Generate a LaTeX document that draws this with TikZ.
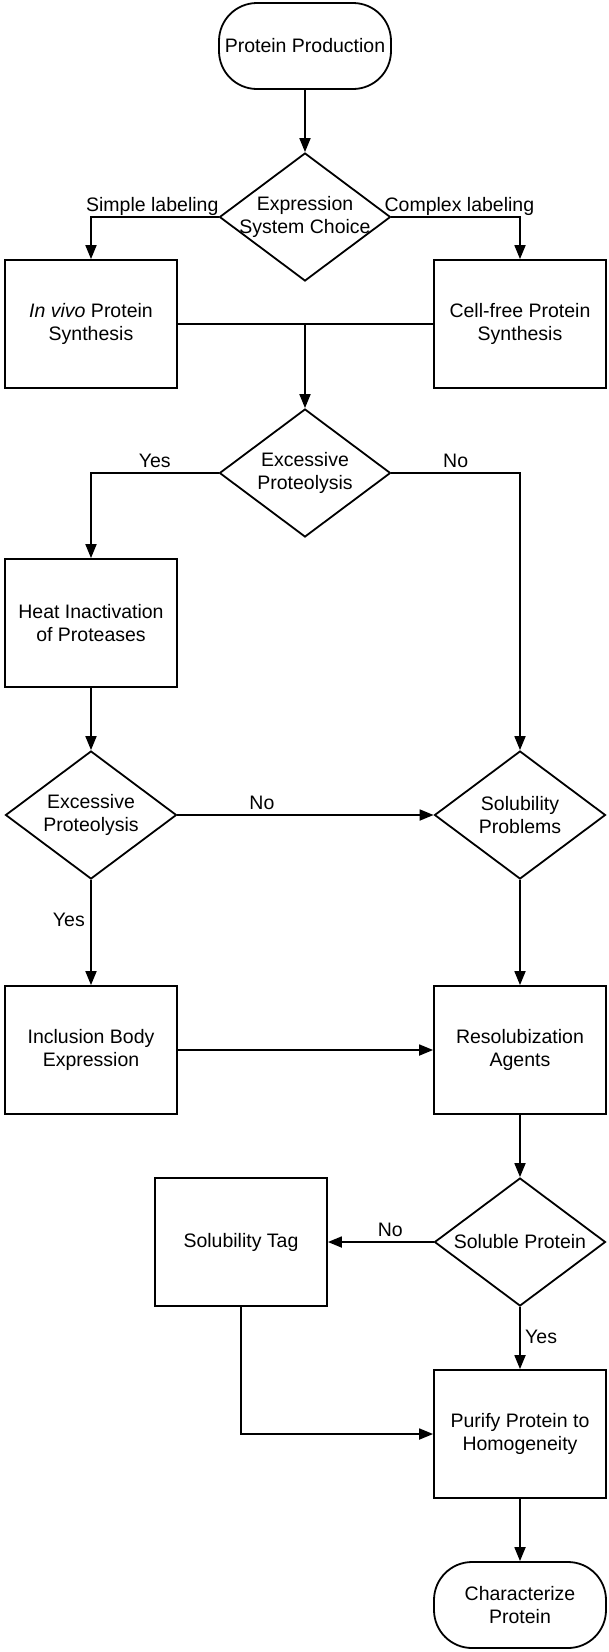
\documentclass[tikz,border=0pt]{standalone}
\usepackage{fontspec}
\setmainfont{Liberation Sans}
\usetikzlibrary{shapes.geometric,arrows.meta}
\begin{document}
\begin{tikzpicture}[x=1pt,y=-1pt,
  font=\fontsize{19.5}{23}\selectfont,
  box/.style={draw, line width=1.8pt, rectangle, minimum width=172pt, minimum height=128pt, align=center, inner sep=2pt},
  term/.style={box, minimum height=86pt, rounded corners=38pt},
  dia/.style={draw, line width=1.8pt, diamond, minimum width=171pt, minimum height=128pt, inner sep=0pt},
  dtext/.style={align=center},
  arr/.style={line width=1.8pt, -{Triangle[length=14pt,width=11pt]}},
  conn/.style={line width=1.8pt},
  lbl/.style={anchor=base, yshift=6pt}
]
\fill[white] (0,0) rectangle (608,1652);
\useasboundingbox (0,0) rectangle (608,1652);

\node[term] (start) at (305,46) {Protein Production};
\node[dia, label={[dtext]center:{Expression\\System Choice}}] (d1) at (305,217) {};
\node[box] (invivo) at (91,324) {\textit{In vivo} Protein\\Synthesis};
\node[box] (cellfree) at (520,324) {Cell-free Protein\\Synthesis};
\node[dia, label={[dtext]center:{Excessive\\Proteolysis}}] (d2) at (305,473) {};
\node[box] (heat) at (91,623) {Heat Inactivation\\of Proteases};
\node[dia, label={[dtext]center:{Excessive\\Proteolysis}}] (d3) at (91,815) {};
\node[dia, label={[dtext]center:{Solubility\\Problems}}] (solprob) at (520,815) {};
\node[box] (incl) at (91,1050) {Inclusion Body\\Expression};
\node[box] (resol) at (520,1050) {Resolubization\\Agents};
\node[dia, label={[dtext]center:{Soluble Protein}}] (d4) at (520,1242) {};
\node[box] (tag) at (241,1242) {Solubility Tag};
\node[box] (purify) at (520,1434) {Purify Protein to\\Homogeneity};
\node[term] (end) at (520,1605) {Characterize\\Protein};

\draw[arr] (start.south) -- (d1.north);
\draw[arr] (d1.west) -| (invivo.north);
\draw[arr] (d1.east) -| (cellfree.north);
\node[anchor=base east, yshift=6pt, inner sep=0pt] (lsimple) at (d1.west) {Simple labeling};
\node[anchor=base west, yshift=6pt, xshift=-7pt, inner sep=0pt] (lcomplex) at (d1.east) {Complex labeling};

\draw[conn] (invivo.east) -- (cellfree.west);
\coordinate (j) at (d2.north |- invivo.east);
\draw[arr] (j) -- (d2.north);

\draw[arr] (d2.west) -| node[lbl, pos=0.25] (l1) {Yes} (heat.north);
\draw[arr] (d2.east) -| node[lbl, pos=0.25] (l2) {No} (solprob.north);
\draw[arr] (heat.south) -- (d3.north);
\draw[arr] (d3.east) -- node[lbl, pos=0.33] (l3) {No} (solprob.west);
\draw[arr] (d3.south) -- node[anchor=east, pos=0.38, xshift=-2pt] (l4) {Yes} (incl.north);
\draw[arr] (solprob.south) -- (resol.north);
\draw[arr] (incl.east) -- (resol.west);
\draw[arr] (resol.south) -- (d4.north);
\draw[arr] (d4.west) -- node[lbl, pos=0.41] (l5) {No} (tag.east);
\draw[arr] (d4.south) -- node[anchor=west, pos=0.48, xshift=1pt] (l6) {Yes} (purify.north);
\draw[arr] (tag.south) |- (purify.west);
\draw[arr] (purify.south) -- (end.north);
\end{tikzpicture}
\end{document}
